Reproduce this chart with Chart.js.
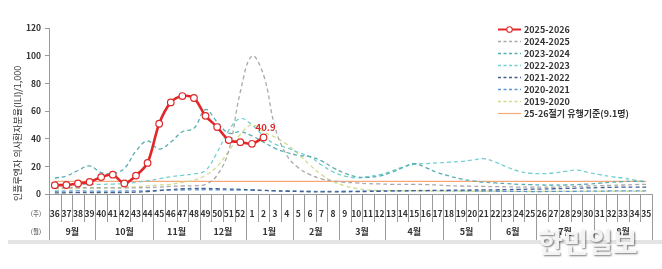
<!DOCTYPE html>
<html>
<head>
<meta charset="utf-8">
<script src="https://cdn.jsdelivr.net/npm/chart.js@4.4.1/dist/chart.umd.min.js"></script>
<style>
  html, body { margin: 0; padding: 0; background: #fff; }
  #wrap { width: 662px; height: 269px; }
</style>
</head>
<body>
<div id="wrap"><canvas id="ili-chart" width="662" height="269"></canvas></div>
<script>
// week labels (x axis) - season runs from week 36 to week 35 of next year
var weeks = [36, 37, 38, 39, 40, 41, 42, 43, 44, 45, 46, 47, 48, 49, 50, 51, 52,
  1, 2, 3, 4, 5, 6, 7, 8, 9, 10, 11, 12, 13, 14, 15, 16, 17, 18, 19, 20,
  21, 22, 23, 24, 25, 26, 27, 28, 29, 30, 31, 32, 33, 34, 35];
var monthNames = ['9월', '10월', '11월', '12월', '1월', '2월', '3월', '4월', '5월', '6월', '7월', '8월'];
var monthSpans = [4, 5, 4, 4, 4, 4, 4, 5, 4, 4, 5, 5];
var yTicks = [0, 20, 40, 60, 80, 100, 120];

// ILI per 1,000 by season
var s2025 = [6.4, 6.5, 7.6, 8.7, 12.2, 14.0, 7.6, 13.3, 22.5, 50.8, 66.2, 70.8, 69.4, 56.5, 48.4, 39.0, 37.5,
  36.3, 40.9];
var s2024 = [4.6, 4.5, 4.6, 4.5, 4.5, 4.4, 4.3, 4.5, 4.6, 5.0, 5.5, 5.8, 6.0, 7.0, 13.6, 31.3, 73.9,
  99.8, 86.1, 48.0, 28.0, 19.0, 14.0, 11.0, 9.5, 8.5, 8.0, 7.5, 7.3, 7.0, 7.0, 7.0, 6.8, 6.5, 6.0, 5.8, 5.6,
  5.5, 5.3, 5.2, 5.0, 5.0, 5.0, 5.0, 5.2, 5.5, 5.8, 6.0, 6.3, 6.5, 6.8, 7.0];
var s2023 = [11.5, 13.0, 17.0, 20.3, 15.5, 14.8, 18.5, 31.0, 38.3, 32.5, 37.5, 45.0, 47.5, 61.0, 52.0, 44.0, 45.0,
  42.0, 37.5, 33.0, 30.0, 28.0, 27.0, 24.0, 19.0, 15.0, 12.5, 12.0, 13.0, 15.5, 19.0, 22.0, 19.0, 15.5, 13.0, 11.0, 9.5,
  8.5, 8.0, 7.5, 7.0, 6.8, 6.5, 6.5, 6.5, 6.8, 7.2, 7.8, 8.5, 9.0, 9.2, 9.0];
var s2022 = [6.5, 6.5, 7.0, 7.0, 7.0, 7.2, 7.5, 8.5, 9.5, 11.0, 12.5, 13.5, 14.5, 17.0, 30.0, 46.0, 54.5,
  50.0, 42.0, 36.0, 33.5, 30.0, 27.0, 21.0, 16.0, 13.0, 11.7, 12.5, 14.0, 16.5, 19.5, 21.5, 22.0, 22.5, 23.0, 23.5, 24.5,
  25.5, 23.0, 19.5, 16.5, 15.0, 14.7, 15.2, 16.3, 17.3, 15.5, 14.0, 12.5, 11.5, 10.0, 8.8];
var s2021 = [0.8, 0.9, 1.0, 1.0, 1.0, 1.0, 1.1, 1.3, 1.8, 2.5, 3.2, 3.8, 4.0, 4.0, 3.8, 3.6, 3.4,
  3.0, 2.6, 2.2, 2.0, 1.8, 1.6, 1.5, 1.5, 1.6, 1.7, 1.8, 2.0, 2.2, 2.3, 2.4, 2.5, 2.6, 2.7, 2.8, 2.9,
  3.0, 3.0, 3.2, 3.3, 3.5, 3.6, 3.8, 4.0, 4.2, 4.4, 4.6, 4.8, 5.0, 5.0, 5.0];
var s2020 = [2.0, 2.1, 2.2, 2.1, 2.0, 2.1, 2.2, 2.3, 2.3, 2.6, 2.8, 2.9, 3.0, 3.1, 3.0, 2.9, 2.8,
  2.7, 2.6, 2.4, 2.3, 2.2, 2.0, 1.9, 1.9, 2.0, 2.1, 2.2, 2.3, 2.3, 2.4, 2.5, 2.5, 2.4, 2.3, 2.2, 2.2,
  2.1, 2.0, 1.9, 1.9, 1.8, 1.8, 1.9, 1.9, 2.0, 2.1, 2.1, 2.2, 2.2, 2.3, 2.3];
var s2019 = [3.8, 3.9, 4.0, 4.1, 4.3, 4.5, 4.8, 5.2, 5.8, 6.5, 7.0, 8.5, 10.0, 13.5, 20.0, 31.0, 43.0,
  50.0, 45.0, 41.0, 36.0, 29.0, 21.0, 14.0, 9.0, 6.0, 4.0, 3.0, 2.6, 2.4, 2.3, 2.2, 2.2, 2.1, 2.1, 2.0, 2.0,
  2.0, 2.0, 2.0, 1.9, 1.9, 1.9, 1.9, 1.9, 1.9, 2.0, 2.0, 2.0, 2.0, 2.0, 2.0];
var threshold = 9.1; // 25-26 epidemic threshold

var KR = "'Noto Sans CJK KR', sans-serif";
var axisGray = '#9a9a9a';

// common style for the past seasons (dashed, smoothed)
function pastSeason(label, data, color) {
    return {
        label: label,
        data: data,
        borderColor: color,
        backgroundColor: color,
        borderWidth: 1.3,
        borderDash: [4, 3],
        pointRadius: 0,
        tension: 0.4,
        fill: false
    };
}

var datasets = [
    {
        label: '2025-2026',
        data: s2025,
        borderColor: '#e0282a',
        backgroundColor: '#ffffff',
        borderWidth: 2.6,
        pointRadius: 3.3,
        pointBorderWidth: 1.2,
        pointBackgroundColor: '#ffffff',
        pointBorderColor: '#e0282a',
        tension: 0.3,
        fill: false
    },
    pastSeason('2024-2025', s2024, '#a9a9ab'),
    pastSeason('2023-2024', s2023, '#58adb0'),
    pastSeason('2022-2023', s2022, '#74cfd0'),
    pastSeason('2021-2022', s2021, '#43608e'),
    pastSeason('2020-2021', s2020, '#5e97d2'),
    pastSeason('2019-2020', s2019, '#cfdc8e'),
    {
        label: '25-26절기 유행기준(9.1명)',
        data: weeks.map(function () { return threshold; }),
        borderColor: '#f5a878',
        backgroundColor: '#f5a878',
        borderWidth: 1.2,
        pointRadius: 0,
        tension: 0,
        fill: false
    }
];

// Draws the two-row x axis (weeks / months), legend, y title, value label
var decorPlugin = {
    id: 'decor',
    beforeDraw: function (chart) {
        var ctx = chart.ctx;
        ctx.save();
        ctx.fillStyle = '#ffffff';
        ctx.fillRect(0, 0, chart.width, chart.height);
        ctx.fillStyle = '#e4e4e4';
        ctx.fillRect(8, 240, chart.width - 8, 4);
        ctx.restore();
    },
    afterDraw: function (chart) {
        var ctx = chart.ctx;
        var area = chart.chartArea;
        var x = chart.scales.x;
        var bottom = area.bottom;
        ctx.save();

        // week / month separators
        var monthEdges = [0];
        var acc = 0;
        for (var m = 0; m < monthSpans.length; m++) {
            acc += monthSpans[m];
            monthEdges.push(acc);
        }
        ctx.strokeStyle = axisGray;
        ctx.lineWidth = 1;
        for (var i = 0; i <= weeks.length; i++) {
            var xp;
            if (i === 0) xp = area.left;
            else if (i === weeks.length) xp = area.right;
            else xp = (x.getPixelForValue(i - 1) + x.getPixelForValue(i)) / 2;
            xp = Math.round(xp) + 0.5;
            var isMonth = monthEdges.indexOf(i) !== -1;
            ctx.beginPath();
            ctx.moveTo(xp, bottom);
            ctx.lineTo(xp, isMonth ? 240 : 222);
            ctx.stroke();
        }

        // week labels
        ctx.fillStyle = '#333333';
        ctx.textAlign = 'center';
        ctx.textBaseline = 'middle';
        ctx.font = 'bold 8.5px ' + KR;
        for (var j = 0; j < weeks.length; j++) {
            ctx.fillText(String(weeks[j]), x.getPixelForValue(j), 214);
        }

        // month labels
        ctx.font = 'bold 9px ' + KR;
        for (var k = 0; k < monthNames.length; k++) {
            var a = x.getPixelForValue(monthEdges[k]);
            var b = x.getPixelForValue(monthEdges[k + 1] - 1);
            ctx.fillText(monthNames[k], (a + b) / 2, 232);
        }

        // row captions
        ctx.font = '6.5px ' + KR;
        ctx.fillText('(주)', 36, 214);
        ctx.fillText('(월)', 36, 232);

        // y axis title
        ctx.save();
        ctx.translate(18, 201);
        ctx.rotate(-Math.PI / 2);
        ctx.textAlign = 'left';
        ctx.font = '9px ' + KR;
        ctx.fillStyle = '#333333';
        ctx.fillText('인플루엔자 의사환자분율(ILI)/1,000', 0, 0);
        ctx.restore();

        // value label on the latest point
        var redMeta = chart.getDatasetMeta(0);
        var last = redMeta.data[s2025.length - 1];
        ctx.font = 'bold 9.5px ' + KR;
        ctx.fillStyle = '#e0282a';
        ctx.fillText(String(s2025[s2025.length - 1]), last.x + 2, last.y - 10);

        // legend
        var lx = 498, ly = 29, rowH = 12;
        chart.data.datasets.forEach(function (ds, n) {
            var cy = ly + n * rowH + 0.5;
            ctx.save();
            ctx.strokeStyle = ds.borderColor;
            if (n === 0) {
                ctx.lineWidth = 2;
                ctx.setLineDash([]);
            } else if (ds.borderDash) {
                ctx.lineWidth = 1.5;
                ctx.setLineDash([3, 2.5]);
            } else {
                ctx.lineWidth = 1.2;
                ctx.setLineDash([]);
            }
            ctx.beginPath();
            ctx.moveTo(lx, cy);
            ctx.lineTo(lx + 23, cy);
            ctx.stroke();
            if (n === 0) {
                ctx.beginPath();
                ctx.arc(lx + 11.5, cy, 2.8, 0, Math.PI * 2);
                ctx.fillStyle = '#ffffff';
                ctx.fill();
                ctx.lineWidth = 1.1;
                ctx.stroke();
            }
            ctx.restore();
            ctx.fillStyle = '#333333';
            ctx.textAlign = 'left';
            ctx.font = 'bold 9px ' + KR;
            ctx.fillText(ds.label, lx + 26, cy + 0.5);
        });

        // watermark
        ctx.save();
        ctx.font = 'bold 27px ' + KR;
        ctx.textAlign = 'center';
        ctx.shadowColor = 'rgba(0,0,0,0.55)';
        ctx.shadowBlur = 2;
        ctx.shadowOffsetX = 1;
        ctx.shadowOffsetY = 1;
        ctx.fillStyle = 'rgba(248,248,248,0.95)';
        ctx.fillText('한민일보', 588, 243);
        ctx.restore();

        ctx.restore();
    }
};

var ctx = document.getElementById('ili-chart').getContext('2d');
var iliChart = new Chart(ctx, {
    type: 'line',
    data: {
        labels: weeks.map(String),
        datasets: datasets
    },
    options: {
        responsive: false,
        animation: false,
        devicePixelRatio: 1,
        layout: {
            padding: { top: 28, right: 10, bottom: 67, left: 0 }
        },
        scales: {
            x: {
                offset: true,
                ticks: { display: false },
                grid: { display: false },
                border: { display: true, color: axisGray, width: 1 }
            },
            y: {
                min: 0,
                max: 120,
                afterFit: function (scale) { scale.width = 49; },
                afterBuildTicks: function (scale) {
                    scale.ticks = yTicks.map(function (v) { return { value: v }; });
                },
                ticks: {
                    padding: 4,
                    color: '#333333',
                    font: { family: KR, size: 8.5, weight: 'bold' }
                },
                grid: {
                    drawOnChartArea: false,
                    tickLength: 4,
                    color: axisGray
                },
                border: { display: true, color: axisGray, width: 1 }
            }
        },
        plugins: {
            legend: { display: false },
            tooltip: { enabled: false }
        }
    },
    plugins: [decorPlugin]
});
</script>
</body>
</html>
